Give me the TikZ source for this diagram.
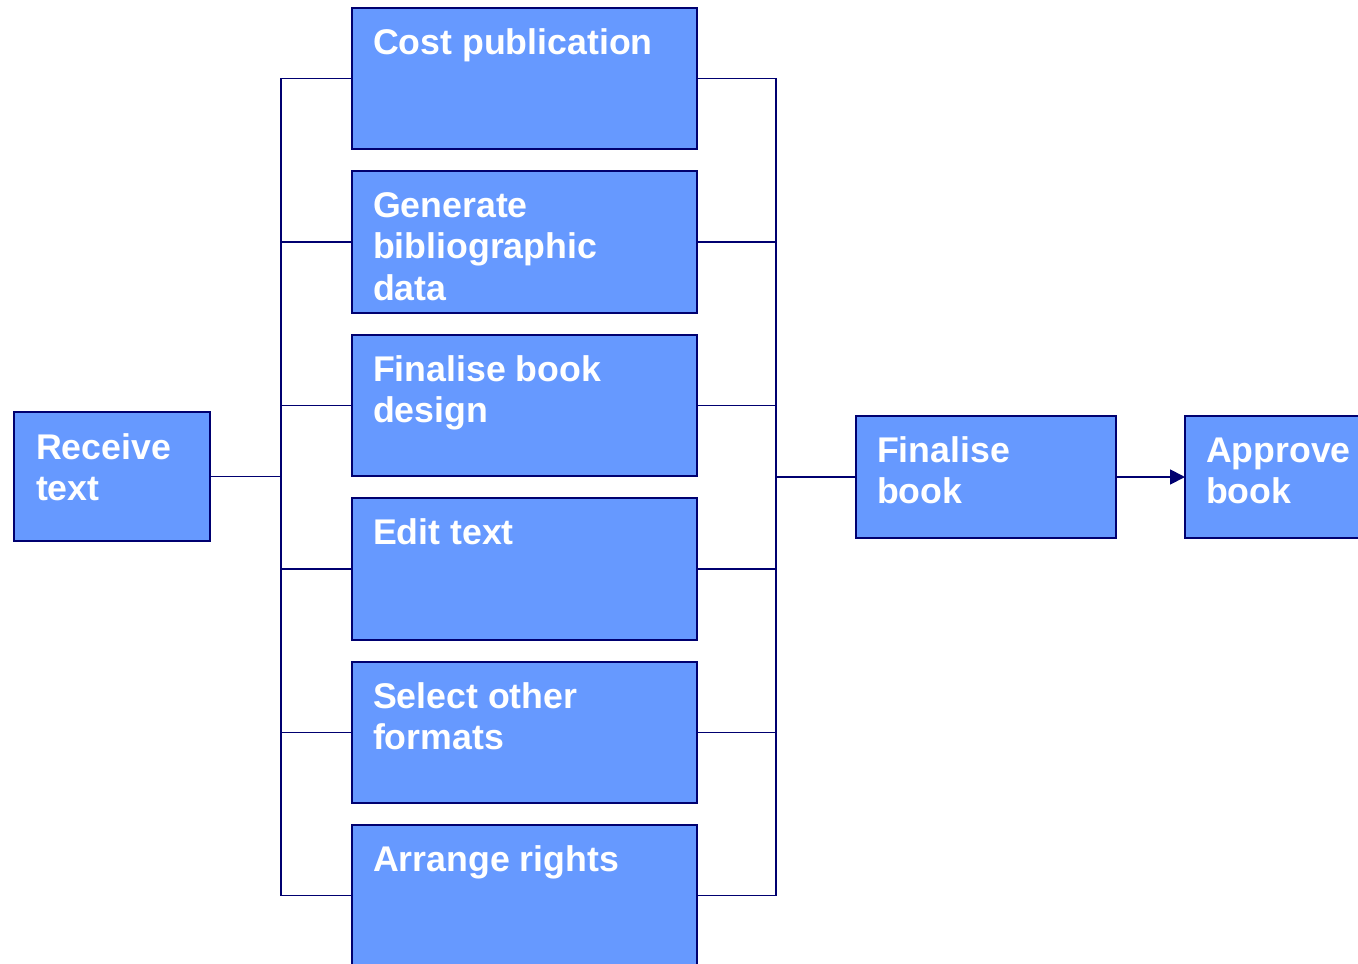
\documentclass[tikz,border=0pt]{standalone}
\usepackage{fontspec}
\setmainfont{Liberation Sans}
\usetikzlibrary{arrows.meta}
\definecolor{boxfill}{HTML}{6699FF}
\definecolor{navy}{HTML}{000070}
\begin{document}
\begin{tikzpicture}[x=1pt,y=-1pt,
  box/.style={draw=navy,fill=boxfill,line width=2.2pt,anchor=north west,inner sep=0pt,outer sep=0pt},
  lbl/.style={anchor=north west,inner sep=0pt,outer sep=0pt,align=left,text=white,
    font=\fontsize{35.7}{41.5}\selectfont\bfseries},
  conn/.style={draw=navy,line width=1.8pt}]
\useasboundingbox[fill=white] (0,0) rectangle (1358,964);
% boxes
\node[box,minimum width=196pt,minimum height=129pt] (rec) at (14,412) {};
\node[box,minimum width=345pt,minimum height=141pt] (b1) at (352,8) {};
\node[box,minimum width=345pt,minimum height=142pt] (b2) at (352,171) {};
\node[box,minimum width=345pt,minimum height=141pt] (b3) at (352,335) {};
\node[box,minimum width=345pt,minimum height=142pt] (b4) at (352,498) {};
\node[box,minimum width=345pt,minimum height=141pt] (b5) at (352,662) {};
\node[box,minimum width=345pt,minimum height=141pt] (b6) at (352,825) {};
\node[box,minimum width=260pt,minimum height=122pt] (fin) at (856,416) {};
\node[box,minimum width=190pt,minimum height=122pt] (app) at (1185,416) {};
% labels
\node[lbl] (trec) at (36,430) {\strut Receive\\text};
\node[lbl] (t1) at (373,25) {\strut Cost publication};
\node[lbl] (t2) at (373,188) {\strut Generate\\bibliographic\\data};
\node[lbl] (t3) at (373,352) {\strut Finalise book\\design};
\node[lbl] (t4) at (373,515) {\strut Edit text};
\node[lbl] (t5) at (373,679) {\strut Select other\\formats};
\node[lbl] (t6) at (373,842) {\strut Arrange rights};
\node[lbl] (tfin) at (877,433) {\strut Finalise\\book};
\node[lbl] (tapp) at (1206,433) {\strut Approve\\book};
% connectors
\foreach \b in {b1,b2,b3,b4,b5,b6}{
  \draw[conn] (rec.east) -- ++(71,0) |- (\b.west);
  \draw[conn] (\b.east) -- ++(79,0) |- (fin.west);
}
\draw[conn,-{Triangle[length=15pt,width=15pt]}] (fin.east) -- (app.west);
\end{tikzpicture}
\end{document}
